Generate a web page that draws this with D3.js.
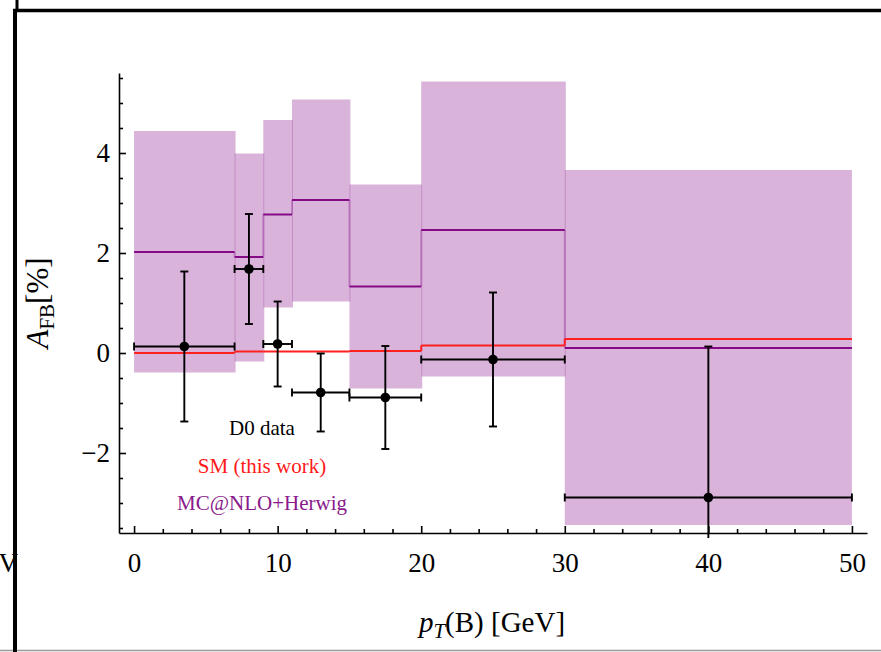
<!DOCTYPE html>
<html>
  <head>
    <meta charset="utf-8">
    <title>A_FB vs pT(B)</title>
    <script type="text/javascript" src="https://d3js.org/d3.v7.min.js"></script>
    <style>
      body { margin: 0; background: #fff; }
      text { font-family: "Liberation Serif", "DejaVu Serif", serif; }
    </style>
  </head>
  <body>
    <svg width="881" height="652"></svg>
    <script>
    // bin edges in pT(B) [GeV]
    var binEdges = [0, 7, 9, 11, 15, 20, 30, 50];
    // MC@NLO+Herwig: central value and band, per bin
    var mcCentral = [2.02, 1.92, 2.77, 3.06, 1.33, 2.46, 0.10];
    var mcUpper = [4.44, 3.99, 4.66, 5.07, 3.37, 5.43, 3.66];
    var mcLower = [-0.39, -0.17, 0.91, 1.03, -0.71, -0.47, -3.44];
    // SM (this work), per bin
    var smValues = [0.00, 0.03, 0.03, 0.03, 0.04, 0.15, 0.28];
    // D0 data points
    var d0X = [3.5, 8, 10, 13, 17.5, 25, 40];
    var d0Y = [0.13, 1.68, 0.18, -0.79, -0.89, -0.13, -2.89];
    var d0Err = [1.5, 1.1, 0.85, 0.78, 1.03, 1.34, 3.02];
    // ticks
    var xTicks = [0, 10, 20, 30, 40, 50];
    var yTicks = [-2, 0, 2, 4];
    var legendLabels = ["D0 data", "SM (this work)", "MC@NLO+Herwig"];
    var legendColors = ["#000000", "#ff1a1a", "#8a1a8c"];

    var svg = d3.select("svg");
    var bandColor = "#b367b5";
    var mcColor = "#850a87";
    var smColor = "#ff2020";

    var x = d3.scaleLinear().domain([-1.05, 51.05]).range([119, 867]);
    var y = d3.scaleLinear().domain([-3.6, 5.6]).range([533, 73]);

    // clip a little past the axes, like the original
    svg.append("clipPath").attr("id", "clip")
      .append("rect").attr("x", 119).attr("y", 73).attr("width", 748).attr("height", 465);
    var plot = svg.append("g").attr("clip-path", "url(#clip)");

    var bins = d3.range(binEdges.length - 1);

    // MC band
    plot.append("g").selectAll("rect")
      .data(bins)
      .enter()
      .append("rect")
      .attr("x", function(i){ return x(binEdges[i]); })
      .attr("width", function(i){ return x(binEdges[i + 1]) - x(binEdges[i]) + (i < bins.length - 1 ? 1 : 0); })
      .attr("y", function(i){ return y(mcUpper[i]); })
      .attr("height", function(i){ return y(mcLower[i]) - y(mcUpper[i]); })
      .attr("fill", bandColor)
      .attr("fill-opacity", 0.5);

    // step lines: horizontal pieces + vertical connectors
    function steps(values, color, vOpacity, width) {
      var g = plot.append("g");
      g.selectAll("line.h")
        .data(bins)
        .enter()
        .append("line")
        .attr("x1", function(i){ return x(binEdges[i]); })
        .attr("x2", function(i){ return x(binEdges[i + 1]); })
        .attr("y1", function(i){ return y(values[i]); })
        .attr("y2", function(i){ return y(values[i]); })
        .attr("stroke", color)
        .attr("stroke-width", width);
      g.selectAll("line.v")
        .data(bins.slice(1))
        .enter()
        .append("line")
        .attr("x1", function(i){ return x(binEdges[i]); })
        .attr("x2", function(i){ return x(binEdges[i]); })
        .attr("y1", function(i){ return y(values[i - 1]); })
        .attr("y2", function(i){ return y(values[i]); })
        .attr("stroke", color)
        .attr("stroke-opacity", vOpacity)
        .attr("stroke-width", width);
    }
    steps(mcCentral, mcColor, 0.3, 2);
    steps(smValues, smColor, 1, 2);

    // D0 data with error bars
    var pts = plot.append("g").selectAll("g")
      .data(bins)
      .enter()
      .append("g")
      .attr("stroke", "#000")
      .attr("stroke-width", 1.9);
    pts.append("line")
      .attr("x1", function(i){ return x(d0X[i]); })
      .attr("x2", function(i){ return x(d0X[i]); })
      .attr("y1", function(i){ return y(d0Y[i] + d0Err[i]); })
      .attr("y2", function(i){ return y(d0Y[i] - d0Err[i]); });
    pts.append("line")
      .attr("x1", function(i){ return x(binEdges[i]); })
      .attr("x2", function(i){ return x(binEdges[i + 1]); })
      .attr("y1", function(i){ return y(d0Y[i]); })
      .attr("y2", function(i){ return y(d0Y[i]); });
    // caps
    [1, -1].forEach(function(s){
      pts.append("line")
        .attr("x1", function(i){ return x(d0X[i]) - 4; })
        .attr("x2", function(i){ return x(d0X[i]) + 4; })
        .attr("y1", function(i){ return y(d0Y[i] + s * d0Err[i]); })
        .attr("y2", function(i){ return y(d0Y[i] + s * d0Err[i]); });
    });
    [0, 1].forEach(function(s){
      pts.append("line")
        .attr("x1", function(i){ return x(binEdges[i + s]); })
        .attr("x2", function(i){ return x(binEdges[i + s]); })
        .attr("y1", function(i){ return y(d0Y[i]) - 4; })
        .attr("y2", function(i){ return y(d0Y[i]) + 4; });
    });
    pts.append("circle")
      .attr("cx", function(i){ return x(d0X[i]); })
      .attr("cy", function(i){ return y(d0Y[i]); })
      .attr("r", 4.8)
      .attr("fill", "#000")
      .attr("stroke", "none");

    // axes (ticks point inwards)
    var xMinor = d3.range(0, 51, 2).filter(function(v){ return v % 10 !== 0; });
    var yMinor = d3.range(-3.5, 5.6, 0.5).filter(function(v){ return v % 2 !== 0; });

    var xAxis = svg.append("g").attr("transform", "translate(0,533)")
      .call(d3.axisBottom(x).tickValues(xTicks).tickSize(-7).tickSizeOuter(0));
    svg.append("g").attr("transform", "translate(0,533)")
      .call(d3.axisBottom(x).tickValues(xMinor).tickSize(-4).tickSizeOuter(0).tickFormat(""))
      .select(".domain").remove();
    var yAxis = svg.append("g").attr("transform", "translate(119,0)")
      .call(d3.axisLeft(y).tickValues(yTicks).tickSize(-7).tickSizeOuter(0).tickPadding(9));
    svg.append("g").attr("transform", "translate(119,0)")
      .call(d3.axisLeft(y).tickValues(yMinor).tickSize(-4).tickSizeOuter(0).tickFormat(""))
      .select(".domain").remove();

    svg.selectAll(".domain, .tick line").attr("stroke", "#000").attr("stroke-width", 1.6);
    xAxis.selectAll("text").attr("y", 39).attr("dy", null)
      .style("font-size", "27px").attr("font-family", null).attr("fill", "#000");
    yAxis.selectAll("text").attr("dy", "0.33em")
      .style("font-size", "27px").attr("font-family", null).attr("fill", "#000");

    // axis titles
    var xt = svg.append("text").attr("x", 492).attr("y", 632)
      .attr("text-anchor", "middle").style("font-size", "29px");
    xt.append("tspan").attr("font-style", "italic").text("p");
    xt.append("tspan").attr("font-style", "italic").attr("font-size", "21px").attr("dy", 6).text("T");
    xt.append("tspan").attr("dy", -6).text("(B) [GeV]");

    var yt = svg.append("text").attr("transform", "translate(48,303) rotate(-90)")
      .attr("text-anchor", "middle").style("font-size", "31px");
    yt.append("tspan").attr("font-style", "italic").text("A");
    yt.append("tspan").attr("font-size", "21px").attr("dy", 6).text("FB");
    yt.append("tspan").attr("dy", -6).text("[%]");

    // legend
    svg.append("g").selectAll("text")
      .data(legendLabels)
      .enter()
      .append("text")
      .attr("x", 262)
      .attr("y", function(d, i){ return 435 + i * 37.5; })
      .attr("text-anchor", "middle")
      .style("font-size", "21px")
      .attr("fill", function(d, i){ return legendColors[i]; })
      .text(function(d){ return d; });

    // page frame pieces around the figure
    svg.append("text").attr("x", 18).attr("y", 572).attr("text-anchor", "end")
      .style("font-size", "27px").text("eV");
    svg.append("line").attr("x1", 0).attr("x2", 881).attr("y1", 650.5).attr("y2", 650.5)
      .attr("stroke", "#999").attr("stroke-width", 1.5);
    svg.append("line").attr("x1", 15).attr("x2", 15).attr("y1", 9).attr("y2", 652)
      .attr("stroke", "#000").attr("stroke-width", 4);
    svg.append("line").attr("x1", 17).attr("x2", 17).attr("y1", 0).attr("y2", 12)
      .attr("stroke", "#000").attr("stroke-width", 3);
    svg.append("line").attr("x1", 13).attr("x2", 881).attr("y1", 10.5).attr("y2", 10.5)
      .attr("stroke", "#000").attr("stroke-width", 3.5);
    </script>
  </body>
</html>
